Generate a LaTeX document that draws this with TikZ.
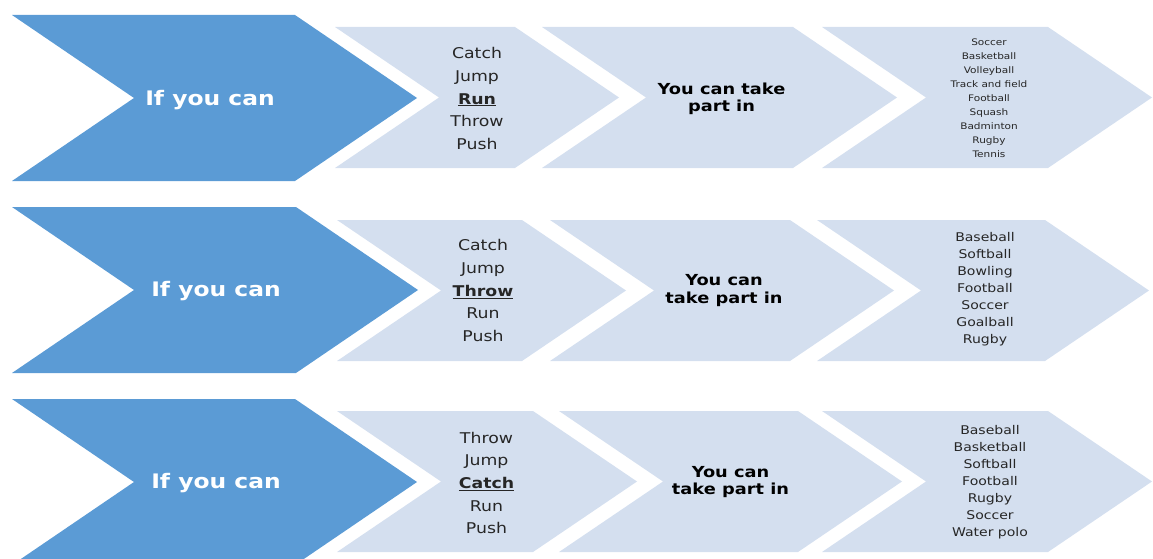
\documentclass[tikz,border=0pt]{standalone}
\usepackage{fontspec}
\newfontfamily\chevfont[FakeStretch=1.17]{DejaVu Sans}
\definecolor{chevblue}{HTML}{5B9BD5}
\definecolor{chevlight}{HTML}{D4DFEF}
% one chevron: style, left x, right x, middle y, half height, depth
\newcommand{\chev}[6]{\fill[#1] (#2,{#4-#5}) -- (#3,{#4-#5}) -- ({#3+#6},#4) -- (#3,{#4+#5}) -- (#2,{#4+#5}) -- ({#2+#6},#4) -- cycle;}
\tikzset{
  bigchev/.style={fill=chevblue},
  lightchev/.style={fill=chevlight},
  iftext/.style={anchor=base, inner sep=0, text=white, font=\chevfont\bfseries\fontsize{20}{24}\selectfont},
  movetext/.style={align=center, inner sep=0, text=black!85, font=\chevfont\fontsize{14.8}{22.7}\selectfont},
  taketext/.style={align=center, inner sep=0, text=black, font=\chevfont\bfseries\fontsize{15.2}{17.4}\selectfont},
  sportsmall/.style={align=center, inner sep=0, text=black!85, font=\chevfont\fontsize{9}{14.05}\selectfont},
  sportlarge/.style={align=center, inner sep=0, text=black!85, font=\chevfont\fontsize{12}{17}\selectfont}
}
\begin{document}
\begin{tikzpicture}[x=1pt,y=-1pt]
	\useasboundingbox (0,0) rectangle (1153,559);
	\clip (0,0) rectangle (1153,559);
	% row 1
	\chev{bigchev}{12}{295}{98}{83}{122}
	\chev{lightchev}{335}{515}{97.5}{70.5}{104}
	\chev{lightchev}{542}{793}{97.5}{70.5}{104}
	\chev{lightchev}{822}{1048}{97.5}{70.5}{104}
	\node[iftext] (if1) at (210,105.7) {If you can};
	\node[movetext] (move1) at (477,98.5) {Catch\\Jump\\\underline{\textbf{Run}}\\Throw\\Push};
	\node[taketext] (take1) at (721.5,99) {You can take\\part in};
	\node[sportsmall] (sport1) at (989,98.1) {Soccer\\Basketball\\Volleyball\\Track and field\\Football\\Squash\\Badminton\\Rugby\\Tennis};
	% row 2
	\chev{bigchev}{12}{296}{290}{83}{122}
	\chev{lightchev}{337}{522}{290.5}{70.5}{104}
	\chev{lightchev}{550}{790}{290.5}{70.5}{104}
	\chev{lightchev}{817}{1045}{290.5}{70.5}{104}
	\node[iftext] (if2) at (216,296) {If you can};
	\node[movetext] (move2) at (483,290.6) {Catch\\Jump\\\underline{\textbf{Throw}}\\Run\\Push};
	\node[taketext] (take2) at (724,290.6) {You can\\take part in};
	\node[sportlarge] (sport2) at (985,289.4) {Baseball\\Softball\\Bowling\\Football\\Soccer\\Goalball\\Rugby};
	% row 3
	\chev{bigchev}{12}{295}{482}{83}{122}
	\chev{lightchev}{337}{533}{481.5}{70.5}{104}
	\chev{lightchev}{559}{798}{481.5}{70.5}{104}
	\chev{lightchev}{822}{1048}{481.5}{70.5}{104}
	\node[iftext] (if3) at (216,488.3) {If you can};
	\node[movetext] (move3) at (486.5,483) {Throw\\Jump\\\underline{\textbf{Catch}}\\Run\\Push};
	\node[taketext] (take3) at (730.5,482.3) {You can\\take part in};
	\node[sportlarge] (sport3) at (990,482.2) {Baseball\\Basketball\\Softball\\Football\\Rugby\\Soccer\\Water polo};
\end{tikzpicture}
\end{document}
